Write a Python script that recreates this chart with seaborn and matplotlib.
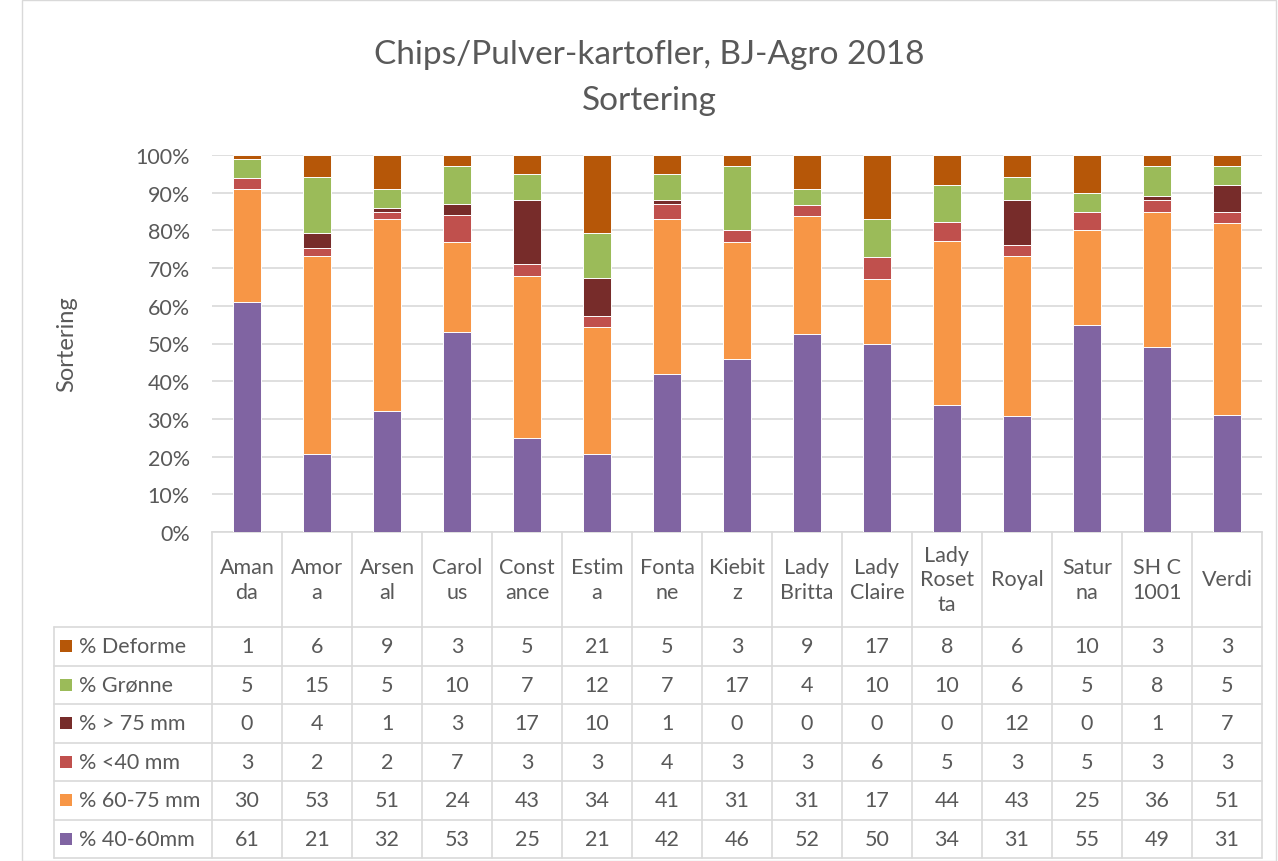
import numpy as np
import pandas as pd
import matplotlib
matplotlib.use("Agg")
import matplotlib.pyplot as plt
import seaborn as sns
from matplotlib.patches import Rectangle

sns.set_theme(style="white")
plt.rcParams['font.family'] = ['Lato', 'DejaVu Sans']

varieties = ["Amanda", "Amora", "Arsenal", "Carolus", "Constance", "Estima", "Fontane",
             "Kiebitz", "Lady Britta", "Lady Claire", "Lady Rosetta", "Royal", "Saturna",
             "SH C 1001", "Verdi"]
col_labels = ["Aman\nda", "Amor\na", "Arsen\nal", "Carol\nus", "Const\nance", "Estim\na",
              "Fonta\nne", "Kiebit\nz", "Lady\nBritta", "Lady\nClaire", "Lady\nRoset\nta",
              "Royal", "Satur\nna", "SH C\n1001", "Verdi"]

deforme = [1, 6, 9, 3, 5, 21, 5, 3, 9, 17, 8, 6, 10, 3, 3]
gronne = [5, 15, 5, 10, 7, 12, 7, 17, 4, 10, 10, 6, 5, 8, 5]
over75 = [0, 4, 1, 3, 17, 10, 1, 0, 0, 0, 0, 12, 0, 1, 7]
under40 = [3, 2, 2, 7, 3, 3, 4, 3, 3, 6, 5, 3, 5, 3, 3]
mm60_75 = [30, 53, 51, 24, 43, 34, 41, 31, 31, 17, 44, 43, 25, 36, 51]
mm40_60 = [61, 21, 32, 53, 25, 21, 42, 46, 52, 50, 34, 31, 55, 49, 31]

# bottom to top in the stack
series_names = ["% 40-60mm", "% 60-75 mm", "% <40 mm", "% > 75 mm", "% Grønne", "% Deforme"]
series_vals = [mm40_60, mm60_75, under40, over75, gronne, deforme]
series_colors = ["#8064A2", "#F79646", "#C0504D", "#772C2A", "#9BBB59", "#B65708"]

txt = "#595959"
grid = "#D9D9D9"
fs = 15.5

W, H = 1278, 862
fig = plt.figure(figsize=(W / 100, H / 100), dpi=100)

# main plot area (pixel boxes from the reference)
px_l, px_r, px_top, px_bot = 212, 1262, 156, 533
ax = fig.add_axes([px_l / W, 1 - px_bot / H, (px_r - px_l) / W, (px_bot - px_top) / H])

df = pd.DataFrame(np.array(series_vals).T, columns=series_names)
df.insert(0, "Sort", varieties)
totals = df[series_names].sum(axis=1)
cum = df[series_names].cumsum(axis=1).div(totals, axis=0) * 100

# draw cumulative bars from the top series down so each layer covers the rest
for name, color in reversed(list(zip(series_names, series_colors))):
    sns.barplot(x=df["Sort"], y=cum[name], order=varieties, color=color, saturation=1,
                width=0.41, edgecolor="white", linewidth=0.7, ax=ax, zorder=3)

ax.set_xlim(-0.5, len(varieties) - 0.5)
ax.set_ylim(0, 100)
ax.set_yticks(range(0, 101, 10))
ax.set_yticklabels([f"{v}%" for v in range(0, 101, 10)], color=txt, fontsize=fs)
ax.tick_params(axis="y", length=0, pad=16)
ax.set_xticks([])
ax.set_xlabel("")
ax.set_ylabel("Sortering", color=txt, fontsize=17, labelpad=42)
ax.yaxis.grid(True, color=grid, linewidth=1.2, zorder=0)
for s in ["top", "right", "left"]:
    ax.spines[s].set_visible(False)
ax.spines["bottom"].set_color(grid)
ax.spines["bottom"].set_linewidth(1.2)

# data table beneath the bars
tl = 54
col_w = (px_r - px_l) / len(varieties)
x_left = -0.5 - (px_l - tl) / col_w
tax = fig.add_axes([tl / W, 1 - 859 / H, (px_r - tl) / W, (859 - px_bot) / H])
tax.set_xlim(x_left, len(varieties) - 0.5)
head_h = 95
row_h = (859 - px_bot - head_h) / 6
tax.set_ylim(head_h + 6 * row_h, 0)
tax.axis("off")

lw = 1.2
# header row: category names
for i in range(len(varieties) + 1):
    tax.plot([i - 0.5, i - 0.5], [0, head_h + 6 * row_h], color=grid, lw=lw, clip_on=False)
tax.plot([x_left, x_left], [head_h, head_h + 6 * row_h], color=grid, lw=lw, clip_on=False)
for i, lab in enumerate(col_labels):
    tax.text(i, head_h / 2, lab, ha="center", va="center", color=txt, fontsize=fs,
             linespacing=1.3)

table_rows = list(zip(series_names, series_vals, series_colors))[::-1]
for r in range(7):
    y = head_h + r * row_h
    tax.plot([x_left, len(varieties) - 0.5], [y, y], color=grid, lw=lw, clip_on=False)
for r, (name, vals, color) in enumerate(table_rows):
    yc = head_h + (r + 0.5) * row_h
    sw = 12 / col_w
    tax.add_patch(Rectangle((x_left + 6 / col_w, yc - 6), sw, 12, color=color, lw=0))
    tax.text(x_left + 25 / col_w, yc, name, ha="left", va="center", color=txt, fontsize=fs)
    for i, v in enumerate(vals):
        tax.text(i, yc, str(v), ha="center", va="center", color=txt, fontsize=fs)

fig.text(0.5 + 10 / W, 1 - 55 / H, "Chips/Pulver-kartofler, BJ-Agro 2018", ha="center",
         va="center", color=txt, fontsize=24)
fig.text(0.5 + 10 / W, 1 - 101 / H, "Sortering", ha="center", va="center", color=txt,
         fontsize=24)

# chart border
fig.patches.append(Rectangle((22 / W, 0), (W - 24) / W, 1 - 1 / H, transform=fig.transFigure,
                             fill=False, edgecolor=grid, lw=1))

fig.savefig("out.png", dpi=100, facecolor="white")
